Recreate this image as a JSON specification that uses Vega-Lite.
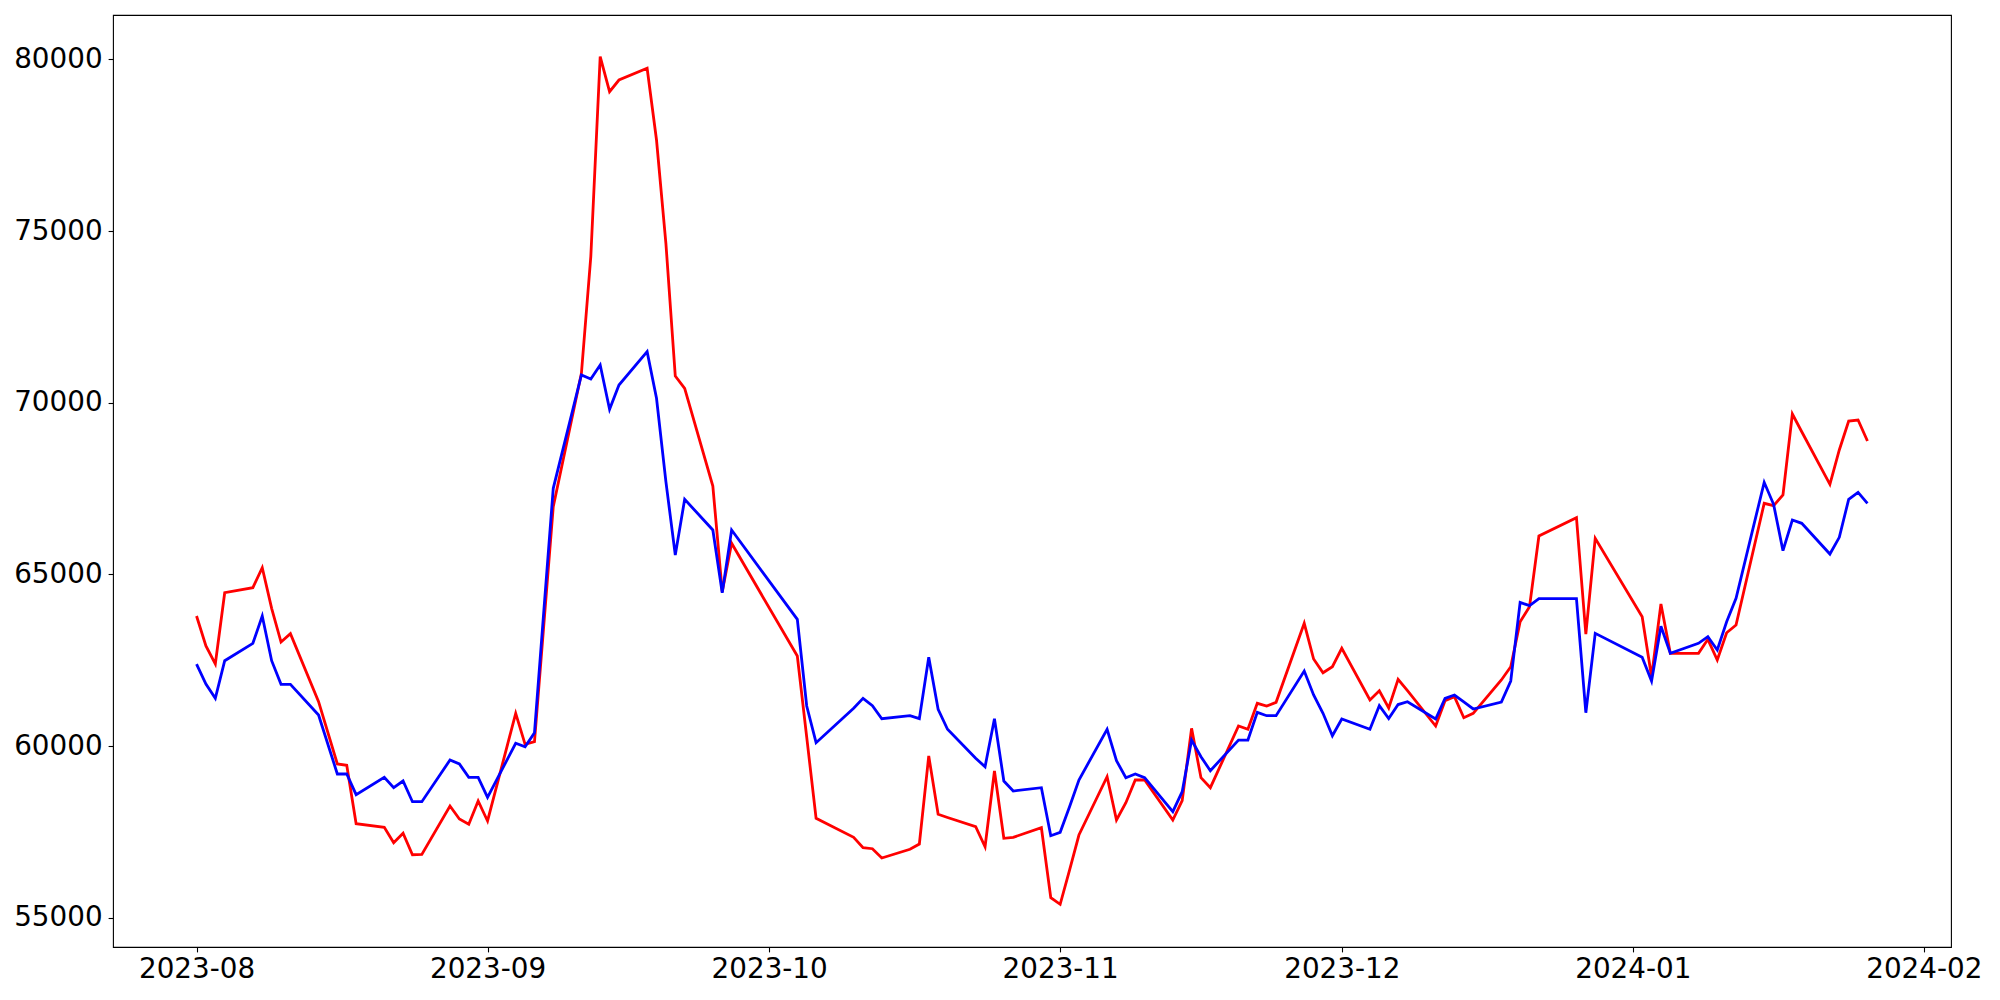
{
  "$schema": "https://vega.github.io/schema/vega-lite/v6.json",
  "width": 1838,
  "height": 932,
  "autosize": {"type": "none"},
  "padding": {"left": 113, "top": 15, "right": 49, "bottom": 53},
  "background": "white",
  "config": {
    "font": "DejaVu Sans",
    "view": {"stroke": "black", "strokeWidth": 1.1},
    "axis": {
      "grid": false,
      "domain": false,
      "title": null,
      "labelFont": "DejaVu Sans",
      "labelFontSize": 27.8,
      "labelColor": "black",
      "tickColor": "black",
      "tickSize": 4.9,
      "tickWidth": 1.1
    }
  },
  "data": {
    "values": [
      {"date": "2023-08-01", "red": 63790, "blue": 62390},
      {"date": "2023-08-02", "red": 62915, "blue": 61808},
      {"date": "2023-08-03", "red": 62391, "blue": 61392},
      {"date": "2023-08-04", "red": 64467, "blue": 62487},
      {"date": "2023-08-07", "red": 64613, "blue": 62993},
      {"date": "2023-08-08", "red": 65195, "blue": 63789},
      {"date": "2023-08-09", "red": 64013, "blue": 62487},
      {"date": "2023-08-10", "red": 63031, "blue": 61800},
      {"date": "2023-08-11", "red": 63273, "blue": 61800},
      {"date": "2023-08-14", "red": 61293, "blue": 60906},
      {"date": "2023-08-16", "red": 59479, "blue": 59188},
      {"date": "2023-08-17", "red": 59441, "blue": 59188},
      {"date": "2023-08-18", "red": 57740, "blue": 58585},
      {"date": "2023-08-21", "red": 57635, "blue": 59091},
      {"date": "2023-08-22", "red": 57187, "blue": 58789},
      {"date": "2023-08-23", "red": 57461, "blue": 58984},
      {"date": "2023-08-24", "red": 56838, "blue": 58381},
      {"date": "2023-08-25", "red": 56848, "blue": 58381},
      {"date": "2023-08-28", "red": 58256, "blue": 59595},
      {"date": "2023-08-29", "red": 57877, "blue": 59479},
      {"date": "2023-08-30", "red": 57723, "blue": 59091},
      {"date": "2023-08-31", "red": 58401, "blue": 59091},
      {"date": "2023-09-01", "red": 57820, "blue": 58509},
      {"date": "2023-09-04", "red": 60955, "blue": 60082},
      {"date": "2023-09-05", "red": 60053, "blue": 59983},
      {"date": "2023-09-06", "red": 60128, "blue": 60390},
      {"date": "2023-09-07", "red": 63550, "blue": 63950},
      {"date": "2023-09-08", "red": 66972, "blue": 67507},
      {"date": "2023-09-11", "red": 70856, "blue": 70807},
      {"date": "2023-09-12", "red": 74252, "blue": 70690},
      {"date": "2023-09-13", "red": 80076, "blue": 71098},
      {"date": "2023-09-14", "red": 79057, "blue": 69808},
      {"date": "2023-09-15", "red": 79397, "blue": 70515},
      {"date": "2023-09-18", "red": 79738, "blue": 71485},
      {"date": "2023-09-19", "red": 77650, "blue": 70128},
      {"date": "2023-09-20", "red": 74642, "blue": 67700},
      {"date": "2023-09-21", "red": 70778, "blue": 65565},
      {"date": "2023-09-22", "red": 70419, "blue": 67187},
      {"date": "2023-09-25", "red": 67574, "blue": 66293},
      {"date": "2023-09-26", "red": 64496, "blue": 64467},
      {"date": "2023-09-27", "red": 65906, "blue": 66293},
      {"date": "2023-10-04", "red": 62624, "blue": 63692},
      {"date": "2023-10-05", "red": 60260, "blue": 61168},
      {"date": "2023-10-06", "red": 57897, "blue": 60099},
      {"date": "2023-10-10", "red": 57344, "blue": 61101},
      {"date": "2023-10-11", "red": 57041, "blue": 61392},
      {"date": "2023-10-12", "red": 57012, "blue": 61176},
      {"date": "2023-10-13", "red": 56742, "blue": 60798},
      {"date": "2023-10-16", "red": 56997, "blue": 60885},
      {"date": "2023-10-17", "red": 57149, "blue": 60798},
      {"date": "2023-10-18", "red": 59712, "blue": 62586},
      {"date": "2023-10-19", "red": 58014, "blue": 61072},
      {"date": "2023-10-20", "red": 57920, "blue": 60489},
      {"date": "2023-10-23", "red": 57653, "blue": 59645},
      {"date": "2023-10-24", "red": 57070, "blue": 59400},
      {"date": "2023-10-25", "red": 59275, "blue": 60798},
      {"date": "2023-10-26", "red": 57315, "blue": 58984},
      {"date": "2023-10-27", "red": 57344, "blue": 58692},
      {"date": "2023-10-30", "red": 57624, "blue": 58789},
      {"date": "2023-10-31", "red": 55585, "blue": 57391},
      {"date": "2023-11-01", "red": 55393, "blue": 57489},
      {"date": "2023-11-02", "red": 56392, "blue": 58235},
      {"date": "2023-11-03", "red": 57411, "blue": 59013},
      {"date": "2023-11-06", "red": 59109, "blue": 60489},
      {"date": "2023-11-07", "red": 57848, "blue": 59575},
      {"date": "2023-11-08", "red": 58352, "blue": 59080},
      {"date": "2023-11-09", "red": 59013, "blue": 59188},
      {"date": "2023-11-10", "red": 59013, "blue": 59080},
      {"date": "2023-11-13", "red": 57848, "blue": 58090},
      {"date": "2023-11-14", "red": 58410, "blue": 58672},
      {"date": "2023-11-15", "red": 60518, "blue": 60177},
      {"date": "2023-11-16", "red": 59080, "blue": 59691},
      {"date": "2023-11-17", "red": 58789, "blue": 59284},
      {"date": "2023-11-20", "red": 60585, "blue": 60177},
      {"date": "2023-11-21", "red": 60489, "blue": 60177},
      {"date": "2023-11-22", "red": 61246, "blue": 60984},
      {"date": "2023-11-23", "red": 61168, "blue": 60885},
      {"date": "2023-11-24", "red": 61275, "blue": 60885},
      {"date": "2023-11-27", "red": 63576, "blue": 62187},
      {"date": "2023-11-28", "red": 62536, "blue": 61488},
      {"date": "2023-11-29", "red": 62137, "blue": 60955},
      {"date": "2023-11-30", "red": 62312, "blue": 60303},
      {"date": "2023-12-01", "red": 62848, "blue": 60789},
      {"date": "2023-12-04", "red": 61342, "blue": 60489},
      {"date": "2023-12-05", "red": 61613, "blue": 61176},
      {"date": "2023-12-06", "red": 61110, "blue": 60800},
      {"date": "2023-12-07", "red": 61945, "blue": 61210},
      {"date": "2023-12-08", "red": 61613, "blue": 61293},
      {"date": "2023-12-11", "red": 60585, "blue": 60789},
      {"date": "2023-12-12", "red": 61322, "blue": 61392},
      {"date": "2023-12-13", "red": 61439, "blue": 61488},
      {"date": "2023-12-14", "red": 60827, "blue": 61285},
      {"date": "2023-12-15", "red": 60955, "blue": 61081},
      {"date": "2023-12-18", "red": 61925, "blue": 61284},
      {"date": "2023-12-19", "red": 62312, "blue": 61896},
      {"date": "2023-12-20", "red": 63623, "blue": 64187},
      {"date": "2023-12-21", "red": 64059, "blue": 64089},
      {"date": "2023-12-22", "red": 66118, "blue": 64292},
      {"date": "2023-12-26", "red": 66651, "blue": 64292},
      {"date": "2023-12-27", "red": 63264, "blue": 60972},
      {"date": "2023-12-28", "red": 66051, "blue": 63285},
      {"date": "2024-01-02", "red": 63768, "blue": 62586},
      {"date": "2024-01-03", "red": 62021, "blue": 61896},
      {"date": "2024-01-04", "red": 64138, "blue": 63490},
      {"date": "2024-01-05", "red": 62702, "blue": 62702},
      {"date": "2024-01-08", "red": 62702, "blue": 62993},
      {"date": "2024-01-09", "red": 63110, "blue": 63186},
      {"date": "2024-01-10", "red": 62507, "blue": 62798},
      {"date": "2024-01-11", "red": 63302, "blue": 63623},
      {"date": "2024-01-12", "red": 63527, "blue": 64304},
      {"date": "2024-01-15", "red": 67070, "blue": 67682},
      {"date": "2024-01-16", "red": 67000, "blue": 67041},
      {"date": "2024-01-17", "red": 67312, "blue": 65690},
      {"date": "2024-01-18", "red": 69671, "blue": 66584},
      {"date": "2024-01-19", "red": 69155, "blue": 66488},
      {"date": "2024-01-22", "red": 67624, "blue": 65594},
      {"date": "2024-01-23", "red": 68623, "blue": 66080},
      {"date": "2024-01-24", "red": 69467, "blue": 67187},
      {"date": "2024-01-25", "red": 69496, "blue": 67391},
      {"date": "2024-01-26", "red": 68885, "blue": 67070}
    ]
  },
  "encoding": {
    "x": {
      "field": "date",
      "type": "temporal",
      "scale": {
        "type": "utc",
        "domain": [
          {"year": 2023, "month": 7, "date": 23, "hours": 2, "minutes": 24, "utc": true},
          {"year": 2024, "month": 2, "date": 3, "hours": 21, "minutes": 36, "utc": true}
        ]
      },
      "axis": {
        "labelExpr": "utcFormat(datum.value, '%Y-%m')",
        "labelPadding": 4,
        "values": [
          {"year": 2023, "month": 8, "date": 1, "utc": true},
          {"year": 2023, "month": 9, "date": 1, "utc": true},
          {"year": 2023, "month": 10, "date": 1, "utc": true},
          {"year": 2023, "month": 11, "date": 1, "utc": true},
          {"year": 2023, "month": 12, "date": 1, "utc": true},
          {"year": 2024, "month": 1, "date": 1, "utc": true},
          {"year": 2024, "month": 2, "date": 1, "utc": true}
        ]
      }
    }
  },
  "layer": [
    {
      "mark": {"type": "line", "color": "#ff0000", "strokeWidth": 2.8},
      "encoding": {
        "y": {
          "field": "red",
          "type": "quantitative",
          "scale": {"domain": [54150, 81290], "zero": false, "nice": false},
          "axis": {"values": [55000, 60000, 65000, 70000, 75000, 80000], "format": "d", "labelPadding": 6}
        }
      }
    },
    {
      "mark": {"type": "line", "color": "#0000ff", "strokeWidth": 2.8},
      "encoding": {
        "y": {"field": "blue", "type": "quantitative"}
      }
    }
  ]
}
